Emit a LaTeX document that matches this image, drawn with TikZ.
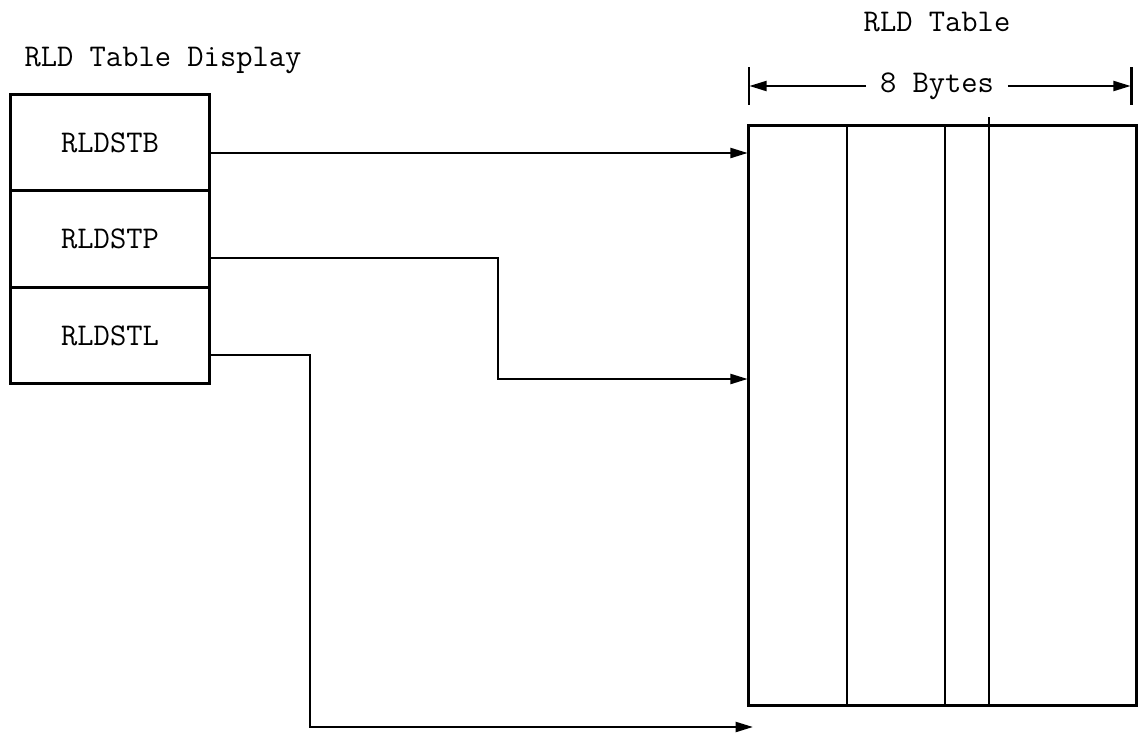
\documentclass[tikz,border=0pt]{standalone}
\usetikzlibrary{arrows.meta,positioning}

\begin{document}
\begin{tikzpicture}[x=0.02cm,y=-0.02cm,>={Triangle[length=10pt,width=5.5pt]},line width=1.7pt,
	  every node/.style={font=\ttfamily\fontsize{18}{22}\selectfont},
	  cell/.style={draw,minimum width=4cm,minimum height=1.93cm,inner sep=0pt,outer sep=0pt}]
	  \useasboundingbox (0,0) rectangle (1144,734);
	  \node (disp) at (163,60) {RLD Table Display};
	  \node (tabname) at (937,22) {RLD Table};
	  \node[cell] (stb) at (110,142.5) {RLDSTB};
	  \node[cell,below=0pt of stb] (stp) {RLDSTP};
	  \node[cell,below=0pt of stp] (stl) {RLDSTL};
	  \node[draw,outer sep=0pt,minimum width=7.78cm,minimum height=11.62cm] (tab) at (942.5,415.5) {};
	  \draw (847,0 |- tab.north) -- (847,0 |- tab.south);
	  \draw (945,0 |- tab.north) -- (945,0 |- tab.south);
	  \draw (989,117) -- (989,0 |- tab.south);
	  % 8 bytes width
	  \draw (749,67) -- (749,105);
	  \draw (1131,67) -- (1131,105);
	  \coordinate (dl) at (749,86);
	  \coordinate (dr) at (1131,86);
	  \node[inner xsep=7pt] (bytes) at (937,86) {8 Bytes};
	  \draw[->] (bytes) -- (dl);
	  \draw[->] (bytes) -- (dr);
	  % pointers
	  \draw[->] (stb.east |- 0,153) -- (tab.west |- 0,153);
	  \draw[->] (stp.east |- 0,258) -- (498,258) -- (498,379) -- (tab.west |- 0,379);
	  \draw[->] (stl.east |- 0,355) -- (310,355) -- (310,727) -- ([xshift=3pt]tab.west |- 0,727);
	\end{tikzpicture}
\end{document}
